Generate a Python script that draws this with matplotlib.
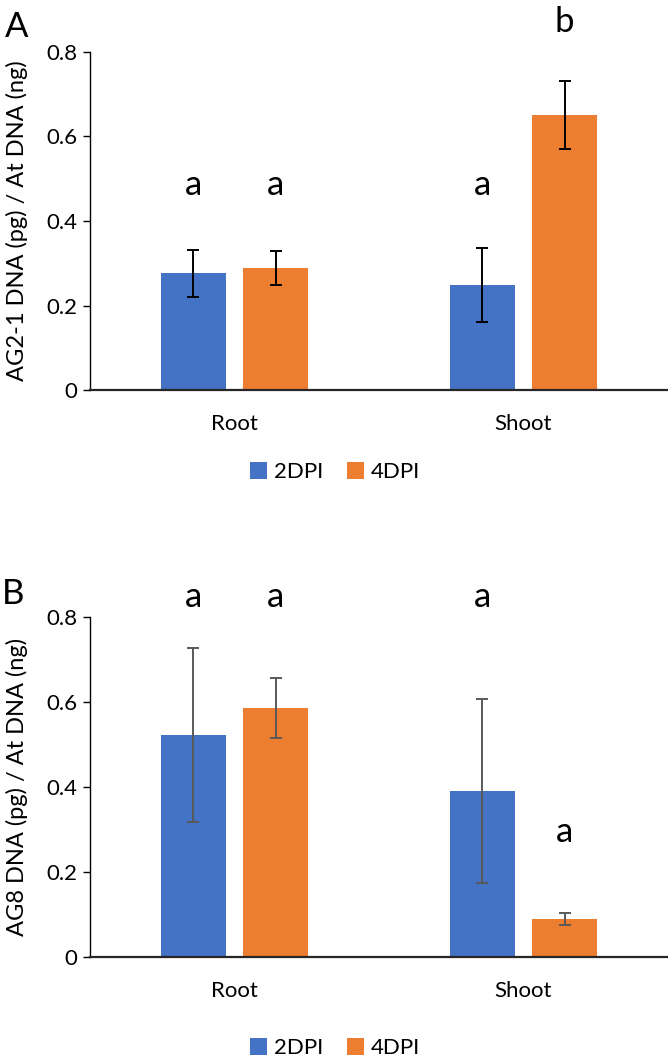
import matplotlib.pyplot as plt
import numpy as np

plt.rcParams['font.family'] = ['Lato', 'DejaVu Sans']

# data
tissues = ['Root', 'Shoot']
series = ['2DPI', '4DPI']

ag21_2dpi = [0.276, 0.249]
ag21_4dpi = [0.289, 0.651]
ag21_err_2dpi = [0.055, 0.088]
ag21_err_4dpi = [0.041, 0.081]
ag21_letters = [['a', 'a'], ['a', 'b']]          # [2dpi, 4dpi] per tissue
ag21_letter_y = [[0.486, 0.486], [0.486, 0.872]]

ag8_2dpi = [0.522, 0.390]
ag8_4dpi = [0.585, 0.090]
ag8_err_2dpi = [0.205, 0.217]
ag8_err_4dpi = [0.071, 0.014]
ag8_letters = [['a', 'a'], ['a', 'a']]
ag8_letter_y = [[0.847, 0.847], [0.847, 0.294]]

c_blue = '#4472C4'
c_orange = '#ED7D31'


def panel(ax, v2, v4, e2, e4, letters, letter_y, ylab, ecol, leg_y):
    x = np.arange(len(tissues))
    w = 0.225
    off = 0.142
    b1 = ax.bar(x - off, v2, w, color=c_blue, label=series[0])
    b2 = ax.bar(x + off, v4, w, color=c_orange, label=series[1])
    ax.errorbar(x - off, v2, yerr=e2, fmt='none', ecolor=ecol,
                elinewidth=1.4, capsize=4, capthick=1.4)
    ax.errorbar(x + off, v4, yerr=e4, fmt='none', ecolor=ecol,
                elinewidth=1.4, capsize=4, capthick=1.4)

    for i in range(len(tissues)):
        for j, d in enumerate([-off, off]):
            ax.text(x[i] + d, letter_y[i][j], letters[i][j], ha='center',
                    va='center', fontsize=25, clip_on=False)

    ax.set_xlim(-0.5, 1.5)
    ax.set_ylim(0, 0.8)
    ax.set_yticks([0, 0.2, 0.4, 0.6, 0.8])
    ax.set_yticklabels(['0', '0.2', '0.4', '0.6', '0.8'])
    ax.set_xticks(x)
    ax.set_xticklabels(tissues)
    ax.tick_params(axis='x', length=0, pad=17, labelsize=16)
    ax.tick_params(axis='y', length=5, width=1, labelsize=16, pad=4)

    ax.spines['top'].set_visible(False)
    ax.spines['right'].set_visible(False)
    ax.spines['bottom'].set_linewidth(1.6)
    ax.spines['bottom'].set_color('#262626')
    ax.spines['left'].set_linewidth(1.0)

    ax.set_ylabel(ylab, fontsize=17)
    ax.yaxis.set_label_coords(-0.108, 0.5)

    ax.legend(handles=[b1, b2], loc='center', bbox_to_anchor=(0.424, leg_y),
              ncol=2, frameon=False, fontsize=16, handlelength=0.75,
              handleheight=0.75, handletextpad=0.3, columnspacing=1.1)


fig = plt.figure(figsize=(6.68, 10.63), dpi=100)
ax1 = fig.add_axes([0.1347, 0.6331, 0.8653, 0.318])
ax2 = fig.add_axes([0.1347, 0.0997, 0.8653, 0.320])

panel(ax1, ag21_2dpi, ag21_4dpi, ag21_err_2dpi, ag21_err_4dpi,
      ag21_letters, ag21_letter_y, 'AG2-1 DNA (pg) / At DNA (ng)', 'black', -0.243)
panel(ax2, ag8_2dpi, ag8_4dpi, ag8_err_2dpi, ag8_err_4dpi,
      ag8_letters, ag8_letter_y, 'AG8 DNA (pg) / At DNA (ng)', '#595959', -0.268)

fig.text(0.008, 1 - 11 / 1063, 'A', fontsize=25, va='top', ha='left')
fig.text(0.003, 1 - 578 / 1063, 'B', fontsize=25, va='top', ha='left')

plt.savefig('out.png', dpi=100)
